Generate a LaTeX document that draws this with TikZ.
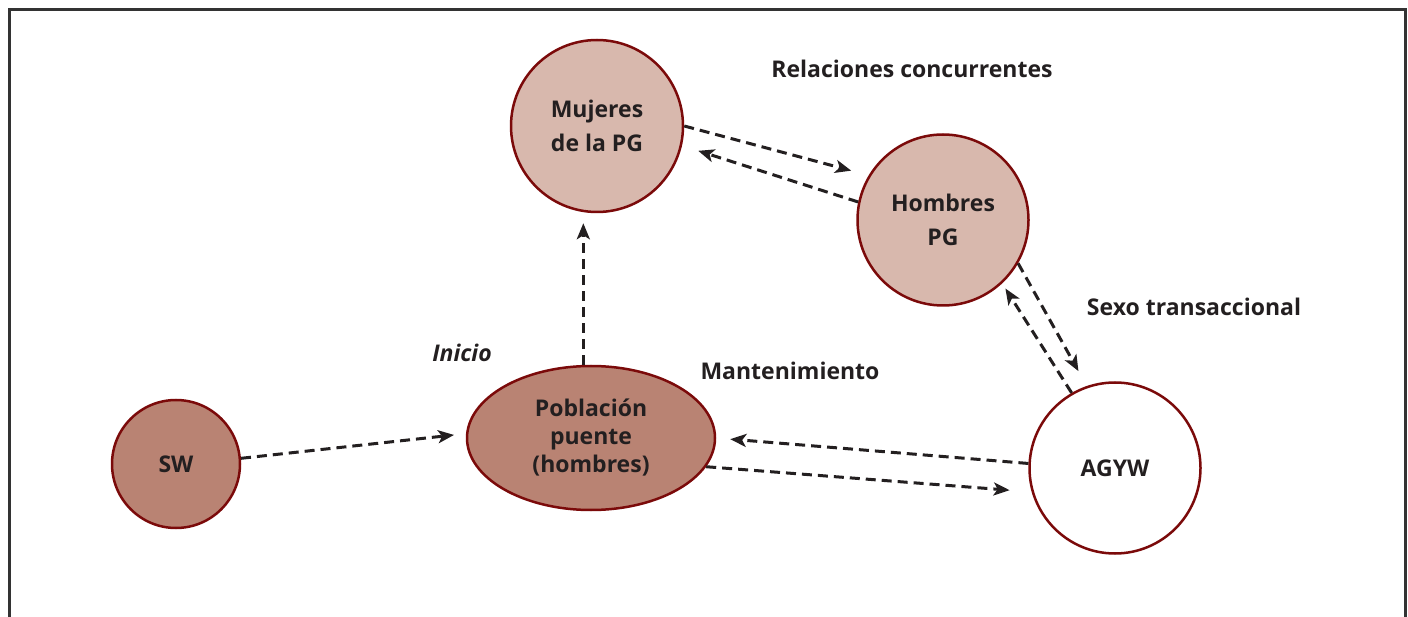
\documentclass[tikz,border=0pt]{standalone}
\usepackage{fontspec}
\setmainfont{Open Sans}
\usetikzlibrary{arrows.meta,shapes.geometric}
\definecolor{rim}{HTML}{7B0A0A}
\definecolor{lightfill}{HTML}{D8B8AD}
\definecolor{darkfill}{HTML}{B98373}
\definecolor{ink}{HTML}{231F20}
\definecolor{framecol}{HTML}{333333}
\tikzset{
  circ/.style={circle, draw=rim, line width=2.5pt, inner sep=0pt, text=ink, align=center},
  ell/.style={ellipse, draw=rim, line width=2.5pt, inner sep=0pt, text=ink, align=center},
  lbl/.style={text=ink, inner sep=0pt, anchor=base, font=\fontsize{23}{26}\selectfont\bfseries},
  conn/.style={draw=ink, line width=3pt, dash pattern=on 10pt off 6pt,
    -{Stealth[length=16pt,width=13pt,inset=4pt]}}
}
\begin{document}
\begin{tikzpicture}[x=1pt,y=-1pt]
\useasboundingbox (0,0) rectangle (1408,617);
\draw[framecol, line width=3pt] (9,620) -- (9,10) -- (1405,10) -- (1405,620);

\node[circ, fill=lightfill, minimum size=172pt, font=\fontsize{23}{34}\selectfont\bfseries] (muj) at (597,126) {Mujeres\\de la PG};
\node[circ, fill=lightfill, minimum size=171pt, font=\fontsize{23}{34}\selectfont\bfseries] (hom) at (943,220) {Hombres\\PG};
\node[circ, fill=darkfill, minimum size=128pt, font=\fontsize{23}{26}\selectfont\bfseries] (sw) at (176,464) {SW};
\node[ell, fill=darkfill, minimum width=248pt, minimum height=144pt, font=\fontsize{23}{28}\selectfont\bfseries] (pob) at (591,438) {Población\\puente\\(hombres)};
\node[circ, fill=white, minimum size=171pt, font=\fontsize{23}{26}\selectfont\bfseries] (agyw) at (1115,468) {AGYW};

\node[lbl] (rc) at (912,77.5) {Relaciones concurrentes};
\node[lbl] (st) at (1194,316) {Sexo transaccional};
\node[lbl] (mt) at (790,380) {Mantenimiento};
\node[lbl, font=\fontsize{23}{26}\selectfont\bfseries\itshape] (ini) at (462,362) {Inicio};

\draw[conn, shorten >=12pt] (sw.5) -- (pob.178);
\draw[conn, shorten >=10pt] (pob.96) -- (pob.96 |- muj.south);
\draw[conn, shorten >=18pt] (muj.0) -- (hom.149);
\draw[conn, shorten >=17pt] (hom.168) -- (muj.-13);
\draw[conn, shorten >=17pt] (hom.-30) -- (agyw.109);
\draw[conn, shorten >=6pt] (agyw.120) -- (hom.-47);
\draw[conn, shorten >=14pt] (agyw.177) -- (pob.0);
\draw[conn, shorten >=22pt] (pob.-14) -- (agyw.196);
\end{tikzpicture}
\end{document}
